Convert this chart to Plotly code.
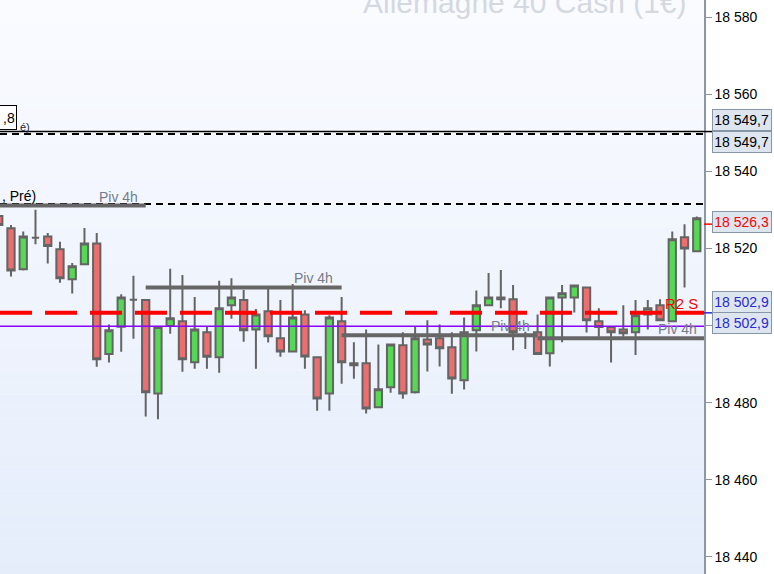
import plotly.graph_objects as go

# ---------------- data ----------------
candle_idx = list(range(1, 59))
opens = [18528.4, 18525.2, 18514.6, 18522.8, 18523.1, 18519.8, 18512.0, 18515.9, 18521.3, 18492.6,
         18499.7, 18506.7, 18506.6, 18482.4, 18499.9, 18501.1, 18490.5, 18498.3, 18491.8, 18505.3,
         18506.6, 18499.0, 18503.7, 18496.7, 18493.3, 18502.9, 18491.8, 18482.4, 18501.1, 18490.2,
         18490.2, 18478.8, 18484.0, 18494.9, 18482.7, 18496.4, 18496.7, 18494.4, 18485.8, 18498.8,
         18505.3, 18506.8, 18506.8, 18497.5, 18498.3, 18492.8, 18507.3, 18507.3, 18509.9, 18501.1,
         18499.6, 18499.0, 18498.3, 18502.9, 18505.3, 18501.1, 18522.9, 18519.3]
highs = [18529.0, 18526.1, 18524.4, 18530.0, 18524.0, 18521.7, 18516.2, 18525.3, 18524.0, 18500.3,
         18508.1, 18512.9, 18506.6, 18499.6, 18514.7, 18513.1, 18507.4, 18499.7, 18511.6, 18512.3,
         18509.2, 18504.3, 18509.6, 18506.6, 18510.8, 18504.0, 18491.8, 18502.7, 18507.4, 18495.7,
         18499.0, 18495.1, 18495.1, 18498.3, 18499.8, 18501.4, 18500.3, 18498.3, 18502.1, 18509.1,
         18513.6, 18514.4, 18510.5, 18498.4, 18502.9, 18507.3, 18510.5, 18510.4, 18509.9, 18504.5,
         18499.6, 18505.3, 18506.6, 18506.6, 18506.8, 18524.4, 18526.3, 18528.3]
lows = [18525.5, 18512.7, 18514.3, 18521.1, 18516.1, 18511.1, 18508.3, 18515.9, 18489.3, 18490.4,
        18493.2, 18496.6, 18476.4, 18475.7, 18497.9, 18488.0, 18488.8, 18488.8, 18487.8, 18501.8,
        18495.8, 18488.8, 18495.6, 18491.9, 18493.3, 18488.8, 18477.9, 18477.9, 18484.9, 18486.2,
        18477.2, 18478.8, 18482.6, 18481.0, 18482.4, 18488.1, 18489.4, 18482.3, 18483.4, 18493.3,
        18505.0, 18504.5, 18493.6, 18493.9, 18492.6, 18489.4, 18495.7, 18503.4, 18498.2, 18497.1,
        18490.4, 18497.1, 18492.4, 18499.0, 18501.4, 18501.1, 18509.9, 18519.0]
closes = [18526.1, 18514.3, 18523.1, 18522.8, 18520.6, 18512.3, 18515.4, 18521.3, 18491.3, 18498.8,
          18507.3, 18506.7, 18482.7, 18499.6, 18501.9, 18491.3, 18499.0, 18491.9, 18504.5, 18507.3,
          18498.8, 18502.9, 18497.2, 18493.3, 18502.1, 18492.0, 18481.1, 18502.1, 18490.5, 18489.7,
          18478.5, 18483.5, 18495.1, 18482.4, 18496.7, 18495.1, 18494.1, 18486.3, 18498.3, 18505.3,
          18507.3, 18507.3, 18498.3, 18497.5, 18492.6, 18507.3, 18508.4, 18510.4, 18501.4, 18499.6,
          18498.3, 18498.0, 18502.7, 18504.5, 18501.4, 18522.4, 18520.0, 18527.8]

# pivot "Piv 4h" segments: start index, end index, level
piv_start = [0, 13, 29, 45]
piv_end = [13, 29, 45, 62]
piv_level = [18531.1, 18509.9, 18497.5, 18496.7]

level_solid_black = 18550.3
levels_dashed_black = [18549.7, 18531.5]
level_r2 = 18503.3
level_purple = 18499.8

tick_vals = [18440, 18460, 18480, 18500, 18520, 18540, 18560, 18580]
# the 18 500 label sits under the price tags in the reference
tick_text = ["18 440", "18 460", "18 480", "", "18 520", "18 540", "18 560", "18 580"]

price_tags = [  # (value, text, colour, yshift)
    (18549.7, "18 549,7", "#000000", 13.9),
    (18549.7, "18 549,7", "#000000", -8.1),
    (18526.3, "18 526,3", "#ff0000", 2.0),
    (18502.9, "18 502,9", "#2a2ad8", 12.4),
    (18502.9, "18 502,9", "#2a2ad8", -8.6),
]

title_text = "Allemagne 40 Cash (1€)"

# ---------------- figure ----------------
W, H = 774, 574
PW = 704
FONT = "Liberation Sans, Arial, sans-serif"

fig = go.Figure()
fig.add_trace(go.Candlestick(
    x=candle_idx, open=opens, high=highs, low=lows, close=closes,
    increasing=dict(fillcolor="#55d955", line=dict(color="#646464", width=2)),
    decreasing=dict(fillcolor="#ec6e6e", line=dict(color="#646464", width=2)),
    whiskerwidth=0, showlegend=False, hoverinfo="skip",
))

shapes = []
# background gradient bands
n = 48
c_bot = (0xe5, 0xed, 0xfb)
c_top = (0xfa, 0xfb, 0xff)
for i in range(n):
    t = (i + 0.5) / n
    c = tuple(int(round(c_bot[k] + (c_top[k] - c_bot[k]) * t)) for k in range(3))
    shapes.append(dict(type="rect", xref="paper", yref="paper", x0=0, x1=1,
                       y0=i / n, y1=(i + 1) / n, fillcolor="rgb(%d,%d,%d)" % c,
                       line=dict(width=0), layer="below"))

# horizontal levels
shapes.append(dict(type="line", xref="paper", yref="y", x0=0, x1=1,
                   y0=level_solid_black, y1=level_solid_black,
                   line=dict(color="#000000", width=1.5)))
for lv in levels_dashed_black:
    shapes.append(dict(type="line", xref="paper", yref="y", x0=0, x1=1, y0=lv, y1=lv,
                       line=dict(color="#000000", width=2, dash="7px,5px")))
for s, e, lv in zip(piv_start, piv_end, piv_level):
    shapes.append(dict(type="line", xref="x", yref="y", x0=s, x1=e, y0=lv, y1=lv,
                       line=dict(color="#666666", width=4)))
shapes.append(dict(type="line", xref="paper", yref="y", x0=0, x1=1, y0=level_r2, y1=level_r2,
                   line=dict(color="#ff0000", width=4, dash="32px,13px")))
shapes.append(dict(type="line", xref="paper", yref="y", x0=0, x1=1, y0=level_purple, y1=level_purple,
                   line=dict(color="#8800ff", width=1.5)))
# coloured axis ticks for price tags
for lv, col in [(level_solid_black, "#000000"), (18526.3, "#ff0000"), (level_r2, "#2a2ad8")]:
    shapes.append(dict(type="line", xref="paper", yref="y", x0=1, x1=1 + 8 / PW, y0=lv, y1=lv,
                       line=dict(color=col, width=1.5)))

annotations = []
for val, txt, col, ys in price_tags:
    annotations.append(dict(xref="paper", x=1, xanchor="left", xshift=8,
                            yref="y", y=val, yanchor="middle", yshift=ys,
                            text=txt, showarrow=False, align="right",
                            width=54, height=16,
                            font=dict(family=FONT, size=14, color=col),
                            bgcolor="#dde5ef", bordercolor="#8696a8", borderwidth=1, borderpad=2))


def py(px):
    return 1 - px / H


def pxx(px):
    return px / PW


annotations += [
    dict(xref="paper", x=pxx(689), xanchor="right", yref="paper", y=py(3), yanchor="middle",
         text=title_text, showarrow=False, font=dict(family=FONT, size=30, color="#d4d8e1")),
    dict(xref="paper", x=pxx(17), xanchor="right", yref="paper", y=py(118), yanchor="middle",
         text=",8", showarrow=False, align="right", width=40, height=21,
         font=dict(family=FONT, size=14, color="#000000"),
         bgcolor="#ffffff", bordercolor="#000000", borderwidth=1, borderpad=1),
    dict(xref="paper", x=pxx(18), xanchor="left", yref="paper", y=py(127), yanchor="middle",
         text="é)", showarrow=False, font=dict(family=FONT, size=11, color="#222244")),
    dict(xref="paper", x=pxx(38), xanchor="right", yref="paper", y=py(196), yanchor="middle",
         text=", Pré)", showarrow=False, font=dict(family=FONT, size=14, color="#000000")),
]
for lx, cy in [(97, 197), (292, 278), (489, 326), (656, 329)]:
    annotations.append(dict(xref="paper", x=pxx(lx), xanchor="left", yref="paper", y=py(cy),
                            yanchor="middle", text="Piv 4h", showarrow=False,
                            font=dict(family=FONT, size=14, color="#747c8a")))
annotations.append(dict(xref="paper", x=pxx(663), xanchor="left", yref="paper", y=py(303),
                        yanchor="middle", text="R2 S", showarrow=False,
                        font=dict(family=FONT, size=15, color="#ff0000")))

fig.update_layout(
    width=W, height=H, margin=dict(l=0, r=W - PW, t=0, b=0),
    paper_bgcolor="#ffffff", plot_bgcolor="#f3f6fd",
    showlegend=False, shapes=shapes, annotations=annotations,
    boxgap=0.15,
    xaxis=dict(range=[1.102, 58.59], visible=False, rangeslider=dict(visible=False),
               fixedrange=True),
    yaxis=dict(range=[18435.59, 18584.41], side="right", tickvals=tick_vals, ticktext=tick_text,
               ticks="outside", ticklen=6, tickcolor="#8c96a4", tickwidth=1,
               showline=True, linecolor="#8c96a4", linewidth=1.5, mirror=False,
               showgrid=False, zeroline=False, fixedrange=True,
               tickfont=dict(family=FONT, size=14, color="#000000")),
)

fig.write_html("out.html", config={"displayModeBar": False},
               post_script="document.body.style.margin='0';")
